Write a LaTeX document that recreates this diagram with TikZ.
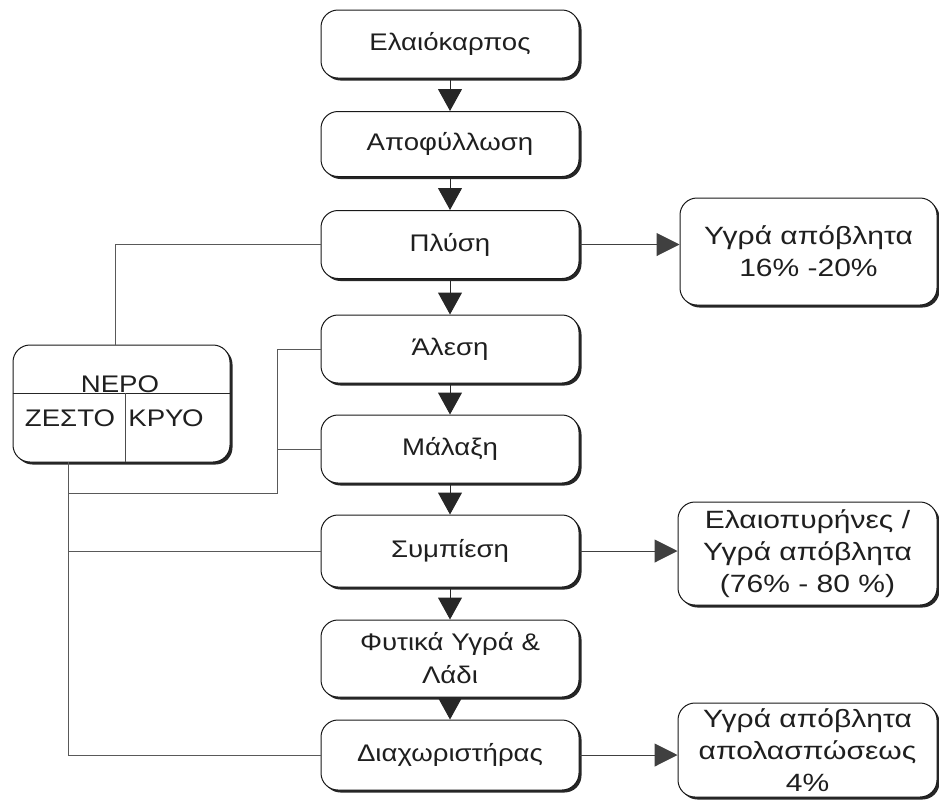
\documentclass[tikz,border=0pt]{standalone}
\usepackage{fontspec}
\setmainfont{Liberation Sans}[FakeStretch=1.15]
\newfontfamily\widefont{Liberation Sans}[FakeStretch=1.2]
\usetikzlibrary{arrows.meta,shadows}
\begin{document}
\begin{tikzpicture}[x=1pt,y=-1pt,
  shd/.style={drop shadow={shadow xshift=2.5pt,shadow yshift=-2.5pt,fill=black!85,opacity=1}},
  box/.style={draw=black!90, line width=1pt, rounded corners=17pt, fill=white, shd,
    minimum width=258pt, minimum height=68pt, align=center, text=black!88,
    font=\fontsize{24}{33}\selectfont, inner sep=0pt},
  sbox/.style={box, font=\widefont\fontsize{25}{32}\selectfont},
  lbl/.style={text=black!88, font=\fontsize{24}{32}\selectfont, inner sep=0pt},
  flow/.style={draw=black!85, line width=1pt, -{Triangle[width=24pt,length=22pt]}},
  side/.style={draw=black!75, line width=1pt, -{Triangle[width=23pt,length=23pt]}},
  pipe/.style={draw=black!65, line width=1pt}
]
\useasboundingbox (0,0) rectangle (939,804);

% main column
\node[box] (e1) at (450,44) {Ελαιόκαρπος};
\node[box, minimum height=65pt] (e2) at (450,144) {Αποφύλλωση};
\node[box] (e3) at (450,244.5) {Πλύση};
\node[box] (e4) at (450,349) {Άλεση};
\node[box] (e5) at (450,449) {Μάλαξη};
\node[box, minimum height=72pt] (e6) at (450,551) {Συμπίεση};
\node[box, minimum height=77pt] (e7) at (450,658.5) {Φυτικά Υγρά \&\\Λάδι};
\node[box, minimum height=70pt] (e8) at (450,755) {Διαχωριστήρας};

% right outputs
\node[sbox, minimum width=257pt, minimum height=107pt] (r1) at (808.5,251.5) {Υγρά απόβλητα\\16\% -20\%};
\node[sbox, minimum width=259pt, minimum height=103pt] (r2) at (807.5,553.5) {Ελαιοπυρήνες /\\Υγρά απόβλητα\\(76\% - 80 \%)};
\node[sbox, minimum width=259pt, minimum height=94pt] (r3) at (807.5,750) {Υγρά απόβλητα\\απολασπώσεως\\4\%};

% water box
\node[box, minimum width=217pt, minimum height=117pt] (nero) at (121.5,403.5) {};
\draw[draw=black!85, line width=1pt] (nero.west |- 0,393) -- (nero.east |- 0,393);
\draw[draw=black!70, line width=1pt] (125,393) -- (125,462);
\node[lbl] (t0) at (120,384) {ΝΕΡΟ};
\node[lbl] (t1) at (70,418) {ΖΕΣΤΟ};
\node[lbl] (t2) at (166,418) {ΚΡΥΟ};

% main flow arrows
\draw[flow] (e1.south) -- (e2.north);
\draw[flow] (e2.south) -- (e3.north);
\draw[flow] (e3.south) -- (e4.north);
\draw[flow] (e4.south) -- (e5.north);
\draw[flow] (e5.south) -- (e6.north);
\draw[flow] (e6.south) -- (e7.north);
\draw[flow] (e7.south) -- (e8.north);

% side arrows
\draw[side] (e3.east) -- (e3.east -| r1.west);
\draw[side] (e6.east) -- (e6.east -| r2.west);
\draw[side] (e8.east) -- (e8.east -| r3.west);

% water pipes
\coordinate (ptop) at (115,345);
\coordinate (pbot) at (68,462);
\coordinate (pend) at (68,755);
\coordinate (pj) at (68,493);
\coordinate (pk) at (277,493);
\draw[pipe] (e3.west) -| (ptop);
\draw[pipe] (pbot) -- (pend) -- (e8.west);
\draw[pipe] (pj) -- (pk) |- (e4.west);
\draw[pipe] (pk |- e5.west) -- (e5.west);
\draw[pipe] (pj |- e6.west) -- (e6.west);
\end{tikzpicture}
\end{document}
